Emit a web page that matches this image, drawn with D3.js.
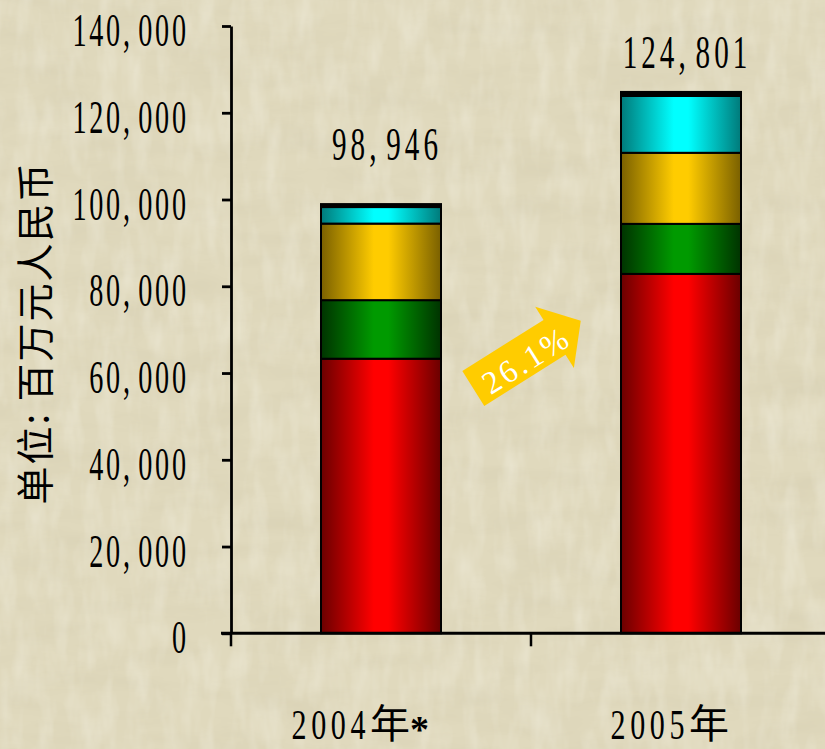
<!DOCTYPE html>
<html><head><meta charset="utf-8">
<script src="https://cdn.jsdelivr.net/npm/d3@7"></script>
<style>html,body{margin:0;padding:0;background:#E0D9BD;} svg{display:block}</style>
</head><body><svg id="c" width="825" height="749"></svg>
<script>
// ---------- data ----------
const categories = ["2004年*", "2005年"];
const totalLabels = ["98,946", "124,801"];
const totals = [98946, 124801];
const seriesRed = [63300, 82850];
const seriesGreen = [13500, 11535];
const seriesGold = [17650, 16385];
const seriesCyan = [3810, 13110];
const seriesBlack = [686, 921];
const yTickValues = [0, 20000, 40000, 60000, 80000, 100000, 120000, 140000];
const yTitle = "单位: 百万元人民币";
const growthLabel = "26.1%";

// ---------- setup ----------
const W = 825, H = 749;
const svg = d3.select("#c");
const defs = svg.append("defs");

// background texture
const f = defs.append("filter").attr("id", "tex").attr("x", 0).attr("y", 0).attr("width", 1).attr("height", 1);
f.append("feTurbulence").attr("type", "fractalNoise").attr("baseFrequency", "0.012 0.045").attr("numOctaves", 4).attr("seed", 7);
f.append("feColorMatrix").attr("type", "matrix")
  .attr("values", "0 0 0 0 0.62  0 0 0 0 0.57  0 0 0 0 0.40  0 0 0 0.55 -0.2");
const f2 = defs.append("filter").attr("id", "tex2").attr("x", 0).attr("y", 0).attr("width", 1).attr("height", 1);
f2.append("feTurbulence").attr("type", "fractalNoise").attr("baseFrequency", "0.06 0.02").attr("numOctaves", 3).attr("seed", 11);
f2.append("feColorMatrix").attr("type", "matrix")
  .attr("values", "0 0 0 0 1  0 0 0 0 1  0 0 0 0 0.95  0 0 0 0.5 -0.2");
svg.append("rect").attr("width", W).attr("height", H).attr("fill", "#E0D9BD");
svg.append("rect").attr("width", W).attr("height", H).attr("filter", "url(#tex)");
svg.append("rect").attr("width", W).attr("height", H).attr("filter", "url(#tex2)");

// scales
const y = d3.scaleLinear().domain([0, 140000]).range([633.3, 26]);
const x = d3.scaleBand().domain(categories).range([231, 831]).paddingInner(0.6).paddingOuter(0.3);

// gradients
const palette = [
  {key: "red",   edge: "#6a0000", mid: "#ff0000"},
  {key: "green", edge: "#003300", mid: "#009a00"},
  {key: "gold",  edge: "#7a6000", mid: "#ffcc00"},
  {key: "cyan",  edge: "#007a7a", mid: "#00ffff"},
  {key: "black", edge: "#000000", mid: "#000000"}
];
palette.forEach(p => {
  const g = defs.append("linearGradient").attr("id", "g-" + p.key).attr("x1", 0).attr("x2", 1).attr("y1", 0).attr("y2", 0);
  g.append("stop").attr("offset", "0%").attr("stop-color", p.edge);
  g.append("stop").attr("offset", "44%").attr("stop-color", p.mid);
  g.append("stop").attr("offset", "56%").attr("stop-color", p.mid);
  g.append("stop").attr("offset", "100%").attr("stop-color", p.edge);
});

// stack
const rows = categories.map((c, i) => ({
  cat: c, red: seriesRed[i], green: seriesGreen[i], gold: seriesGold[i], cyan: seriesCyan[i], black: seriesBlack[i]
}));
const keys = palette.map(p => p.key);
const stacked = d3.stack().keys(keys)(rows);

const bars = svg.append("g");
stacked.forEach(layer => {
  bars.selectAll(null).data(layer).enter().append("rect")
    .attr("x", d => x(d.data.cat))
    .attr("width", x.bandwidth())
    .attr("y", d => y(d[1]))
    .attr("height", d => y(d[0]) - y(d[1]))
    .attr("fill", "url(#g-" + layer.key + ")")
    .attr("stroke", "#000")
    .attr("stroke-width", 2);
});

// condensed serif text helper (comma followed by a small gap, as in the reference)
function condensed(parent, tx, ty, str, size, sx, ls, anchor, fill) {
  const t = parent.append("text")
    .attr("transform", `translate(${tx},${ty}) scale(${sx},1)`)
    .attr("font-family", "'Liberation Serif','Times New Roman',serif")
    .attr("font-size", size)
    .attr("letter-spacing", ls)
    .attr("text-anchor", anchor)
    .attr("fill", fill || "#000");
  const parts = str.split(",");
  parts.forEach((p, i) => {
    if (i > 0) t.append("tspan").text(",");
    const sp = t.append("tspan").text(p);
    if (i > 0) sp.attr("dx", size * 0.2);
  });
  if (anchor === "end") t.attr("dx", ls);
  return t;
}

// y axis
const yAxis = d3.axisLeft(y).tickValues(yTickValues).tickSize(9).tickSizeOuter(0).tickFormat("");
const ya = svg.append("g").attr("transform", "translate(231,0)").call(yAxis);
ya.selectAll("path,line").attr("stroke", "#000").attr("stroke-width", 2.8);
const fmt = d3.format(",");
yTickValues.forEach(v => condensed(svg, 186, y(v) + 20, fmt(v), 47, 0.6, 4.5, "end"));

// x axis line + boundary ticks
const step = x.step();
svg.append("line").attr("x1", 221).attr("x2", W + 10).attr("y1", y(0)).attr("y2", y(0))
  .attr("stroke", "#000").attr("stroke-width", 3);
categories.forEach(c => {
  const bx = x(c) - step * x.paddingInner() / 2;
  svg.append("line").attr("x1", bx).attr("x2", bx).attr("y1", y(0)).attr("y2", y(0) + 13)
    .attr("stroke", "#000").attr("stroke-width", 2.5);
});

// category labels (mixed condensed digits + CJK), right-aligned near bar right edge
categories.forEach(c => {
  const g = svg.append("g");
  const runs = c.match(/[0-9]+|[^0-9]+/g);
  let cx = 0;
  runs.forEach(r => {
    if (/^[0-9]+$/.test(r)) {
      const t = condensed(g, cx, 0, r, 43, 0.7, 6.5, "start");
      cx += t.node().getComputedTextLength() * 0.7;
    } else {
      for (const ch of r) {
        const isStar = ch === "*";
        const t = g.append("text").attr("x", cx).attr("y", isStar ? 3 : -1)
          .attr("font-family", isStar ? "'Liberation Serif',serif" : "'Noto Sans CJK SC',sans-serif")
          .attr("font-weight", isStar ? "bold" : "normal")
          .attr("font-size", isStar ? 38 : 40)
          .text(ch);
        cx += t.node().getComputedTextLength();
      }
    }
  });
  const right = x(c) + x.bandwidth() - 12;
  g.attr("transform", `translate(${right - cx},739)`);
});

// total labels
const labelLift = [44, 24];
categories.forEach((c, i) => {
  condensed(svg, x(c) + x.bandwidth() / 2 + 6, y(totals[i]) - labelLift[i], totalLabels[i], 47, 0.62, 6.5, "middle");
});

// y title
svg.append("text")
  .attr("transform", "translate(49,333) rotate(-90)")
  .attr("text-anchor", "middle")
  .attr("font-family", "'Noto Sans CJK SC',sans-serif")
  .attr("font-size", 38)
  .attr("letter-spacing", 2)
  .attr("fill", "#000")
  .text(yTitle);

// growth arrow between bars
const ag = svg.append("g").attr("transform", "translate(473.3,388.5) rotate(-32.2)");
ag.append("path")
  .attr("d", "M0,-20.6 L96,-20.6 L96,-36.3 L127,0 L96,36.3 L96,20.6 L0,20.6 Z")
  .attr("fill", "#FFCC00");
ag.append("text").attr("x", 60).attr("y", 15)
  .attr("text-anchor", "middle")
  .attr("font-family", "'Liberation Serif',serif")
  .attr("font-size", 32)
  .attr("letter-spacing", 3)
  .attr("fill", "#fff")
  .text(growthLabel);
</script>
</body></html>
